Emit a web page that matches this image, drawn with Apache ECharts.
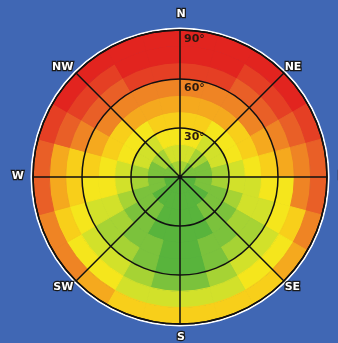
<!DOCTYPE html>
<html>
<head>
<meta charset="utf-8">
<script src="https://cdn.jsdelivr.net/npm/echarts@6/dist/echarts.min.js"></script>
<style>
  html, body { margin: 0; padding: 0; background: #4067b4; }
  #main { width: 338px; height: 343px; }
</style>
</head>
<body>
<div id="main"></div>
<script>
// 24 azimuth sectors of 15 deg, clockwise from north
const sectors = [
  "0", "15", "30", "45", "60", "75", "90", "105", "120", "135", "150", "165",
  "180", "195", "210", "225", "240", "255", "270", "285", "300", "315", "330", "345",
];
const compassLabels = ["N", "NE", "E", "SE", "S", "SW", "W", "NW"];
const ringTicks = [30, 60, 90];

// colour level (0 = green .. 10 = red) per sector, one array per 10 deg ring
const ring0 = [2, 2, 1, 1, 1, 1, 0, 0, 0, 0, 0, 0, 0, 0, 0, 0, 0, 0, 1, 1, 1, 1, 2, 2];
const ring10 = [3, 3, 2, 2, 1, 1, 1, 1, 0, 0, 0, 0, 0, 0, 0, 0, 1, 1, 1, 1, 2, 2, 3, 3];
const ring20 = [4, 4, 3, 3, 3, 2, 2, 1, 1, 1, 0, 0, 0, 0, 1, 1, 1, 2, 2, 3, 3, 3, 4, 4];
const ring30 = [5, 5, 4, 4, 4, 3, 3, 2, 1, 1, 0, 0, 0, 0, 1, 1, 2, 3, 3, 4, 4, 4, 5, 5];
const ring40 = [6, 6, 6, 5, 5, 4, 3, 3, 2, 1, 1, 0, 0, 1, 1, 2, 3, 4, 4, 5, 5, 6, 6, 6];
const ring50 = [7, 7, 7, 7, 6, 5, 4, 3, 2, 2, 1, 0, 0, 1, 2, 2, 3, 4, 5, 6, 7, 7, 7, 7];
const ring60 = [9, 9, 8, 8, 7, 6, 4, 4, 3, 3, 2, 1, 1, 2, 3, 3, 4, 5, 5, 7, 8, 8, 9, 9];
const ring70 = [10, 10, 9, 9, 8, 7, 7, 5, 4, 4, 3, 3, 3, 3, 4, 4, 5, 6, 6, 8, 9, 9, 10, 10];
const ring80 = [10, 10, 10, 10, 9, 8, 8, 7, 6, 5, 5, 5, 5, 5, 6, 7, 7, 8, 8, 9, 10, 10, 10, 10];
const rings = [ring0, ring10, ring20, ring30, ring40, ring50, ring60, ring70, ring80];

const palette = [
  "#58b43c", "#7bc23c", "#a6d334", "#d2e12a", "#f5e61c", "#f8cf1a",
  "#f5a91e", "#ef8424", "#e95f27", "#e53f24", "#e2241f",
];

const chart = echarts.init(document.getElementById("main"));

const center = [180, 177];
const radius = 147;

const labelText = {
  color: "#ffffff",
  fontFamily: "DejaVu Sans",
  fontWeight: "bold",
  fontSize: 11,
  textBorderColor: "#1a1a1a",
  textBorderWidth: 2.5,
};

const option = {
  backgroundColor: "#4067b4",
  animation: false,
  polar: [
    { center: center, radius: radius },
    { center: center, radius: radius },
  ],
  angleAxis: [
    {
      polarIndex: 0,
      type: "category",
      data: sectors,
      startAngle: 90,
      clockwise: true,
      axisLine: { show: true, lineStyle: { color: "#ffffff", width: 5 } },
      axisTick: { show: false },
      axisLabel: { show: false },
      splitLine: { show: false },
    },
    {
      polarIndex: 1,
      type: "value",
      min: 0,
      max: 360,
      interval: 45,
      startAngle: 90,
      clockwise: true,
      z: 10,
      axisLine: { show: true, lineStyle: { color: "#111", width: 1.5 } },
      axisTick: { show: false },
      axisLabel: {
        margin: 1,
        ...labelText,
        formatter: (v) => {
          if (v >= 360) return "";
          const i = Math.round(v / 45);
          return i % 2 === 0 ? "{c|" + compassLabels[i] + "}" : "{d|" + compassLabels[i] + "}";
        },
        rich: {
          c: { ...labelText, padding: [7, 8, 9, 10] },
          d: { ...labelText, padding: [0, 2, 0, 0] },
        },
      },
      splitLine: { show: true, lineStyle: { color: "#111", width: 1.5 } },
    },
  ],
  radiusAxis: [
    {
      polarIndex: 0,
      min: 0,
      max: 90,
      axisLine: { show: false },
      axisTick: { show: false },
      axisLabel: { show: false },
      splitLine: { show: false },
    },
    {
      polarIndex: 1,
      min: 0,
      max: 90,
      interval: 30,
      angle: 90,
      z: 10,
      axisLine: { show: false },
      axisTick: { show: false },
      axisLabel: {
        inside: true,
        margin: -4,
        align: "left",
        verticalAlign: "top",
        padding: [4, 0, 0, 0],
        color: "#2a1a10",
        fontFamily: "DejaVu Sans",
        fontWeight: "bold",
        fontSize: 11,
        formatter: (v) => (ringTicks.includes(v) ? v + "°" : ""),
      },
      splitLine: { show: true, lineStyle: { color: "#111", width: 1.5 } },
    },
  ],
  series: rings.map((levels, i) => ({
    name: "ring" + i * 10,
    type: "bar",
    coordinateSystem: "polar",
    polarIndex: 0,
    stack: "sky",
    barCategoryGap: "0%",
    silent: true,
    data: levels.map((lv) => ({
      value: 10,
      itemStyle: { color: palette[lv], borderColor: palette[lv], borderWidth: 1 },
    })),
  })),
};

chart.setOption(option);
</script>
</body>
</html>
